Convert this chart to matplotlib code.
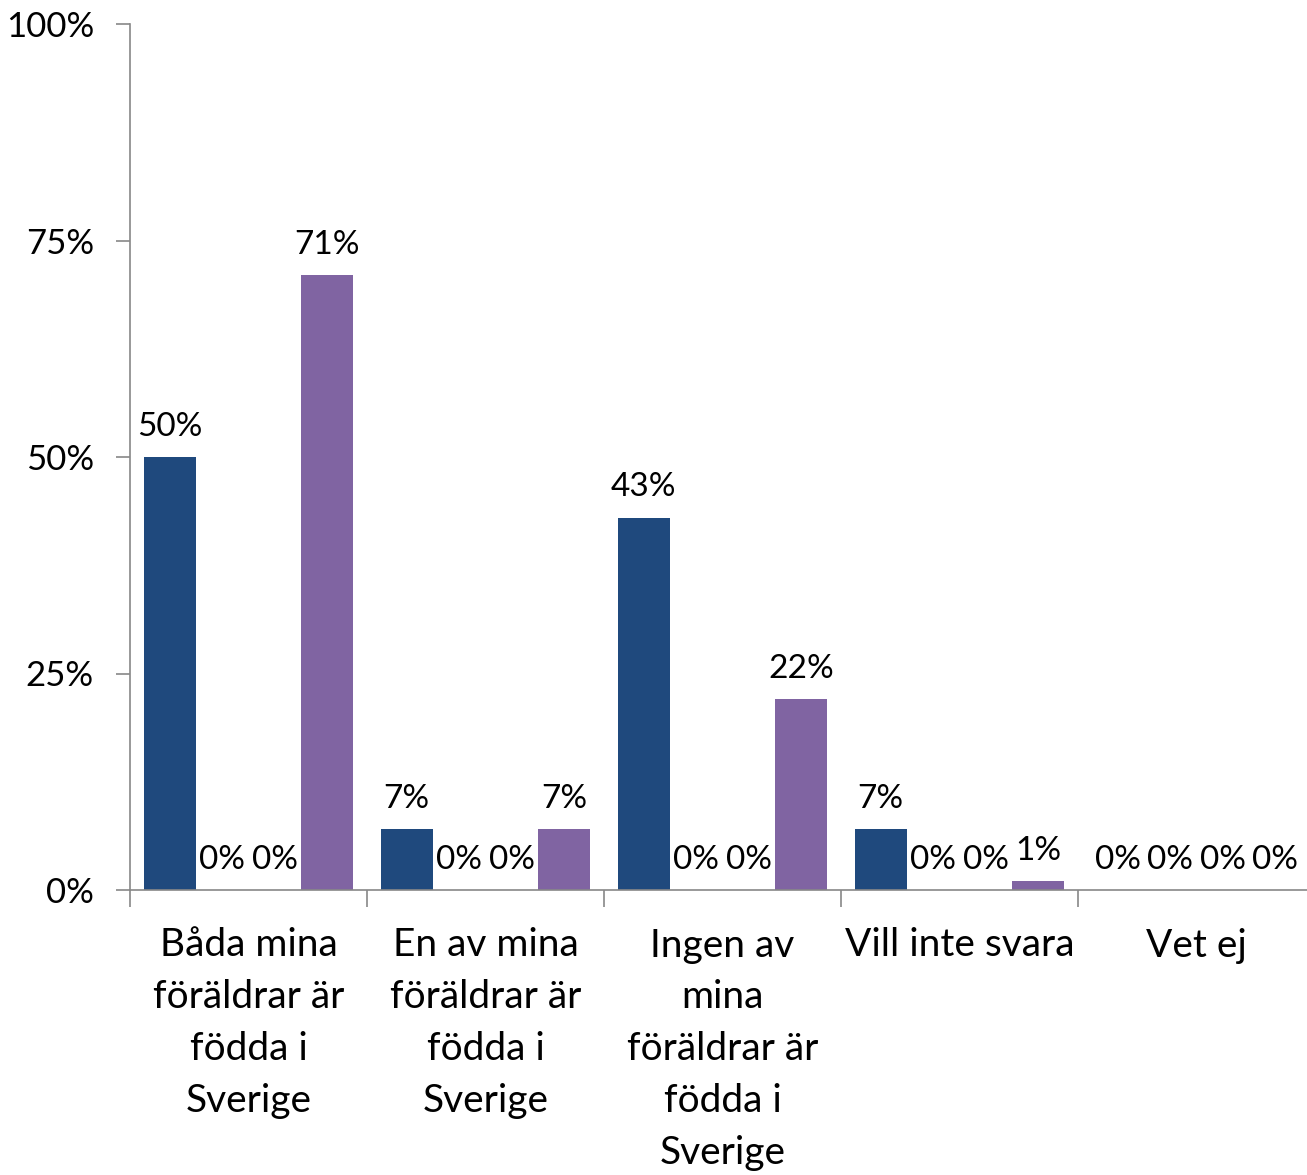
import numpy as np
import matplotlib.pyplot as plt
from matplotlib.ticker import FixedLocator, NullFormatter

plt.rcParams['font.family'] = ['Lato', 'DejaVu Sans']

categories = ["Båda mina\nföräldrar är\nfödda i\nSverige",
              "En av mina\nföräldrar är\nfödda i\nSverige",
              "Ingen av\nmina\nföräldrar är\nfödda i\nSverige",
              "Vill inte svara",
              "Vet ej"]
series_a = [50, 7, 43, 7, 0]
series_b = [0, 0, 0, 0, 0]
series_c = [0, 0, 0, 0, 0]
series_d = [71, 7, 22, 1, 0]
colors = ["#1F497D", "#4F81BD", "#9BBB59", "#8064A2"]

fig = plt.figure(figsize=(13.07, 11.75), dpi=100)
ax = fig.add_axes([130/1307, 285/1175, 1185/1307, 866/1175])

x = np.arange(len(categories))
w = 0.2215
allseries = [series_a, series_b, series_c, series_d]
for i, vals in enumerate(allseries):
    pos = x + (i - 1.5) * w
    bars = ax.bar(pos, vals, width=w, color=colors[i], zorder=2)
    for b, v in zip(bars, vals):
        ax.annotate(f"{v}%", (b.get_x() + b.get_width()/2, v),
                    xytext=(0, 11), textcoords="offset points",
                    ha="center", va="bottom", fontsize=24)

ax.set_ylim(0, 100)
ax.set_xlim(-0.5, len(categories) - 0.5)
ax.set_yticks([0, 25, 50, 75, 100])
ax.set_yticklabels(["0%", "25%", "50%", "75%", "100%"], fontsize=25)

ax.xaxis.set_major_locator(FixedLocator(np.arange(len(categories) + 1) - 0.5))
ax.xaxis.set_major_formatter(NullFormatter())
ax.xaxis.set_minor_locator(FixedLocator(x))
ax.set_xticklabels(categories, minor=True, fontsize=28, linespacing=1.55, va="top")
ax.tick_params(axis="x", which="minor", length=0, pad=27)
ax.tick_params(axis="x", which="major", length=12, color="#888888", width=1.2)
ax.tick_params(axis="y", length=10, color="#888888", width=1.2, pad=16)

for s in ["top", "right"]:
    ax.spines[s].set_visible(False)
for s in ["left", "bottom"]:
    ax.spines[s].set_color("#888888")
    ax.spines[s].set_linewidth(1.2)

fig.savefig("out.png", dpi=100)
